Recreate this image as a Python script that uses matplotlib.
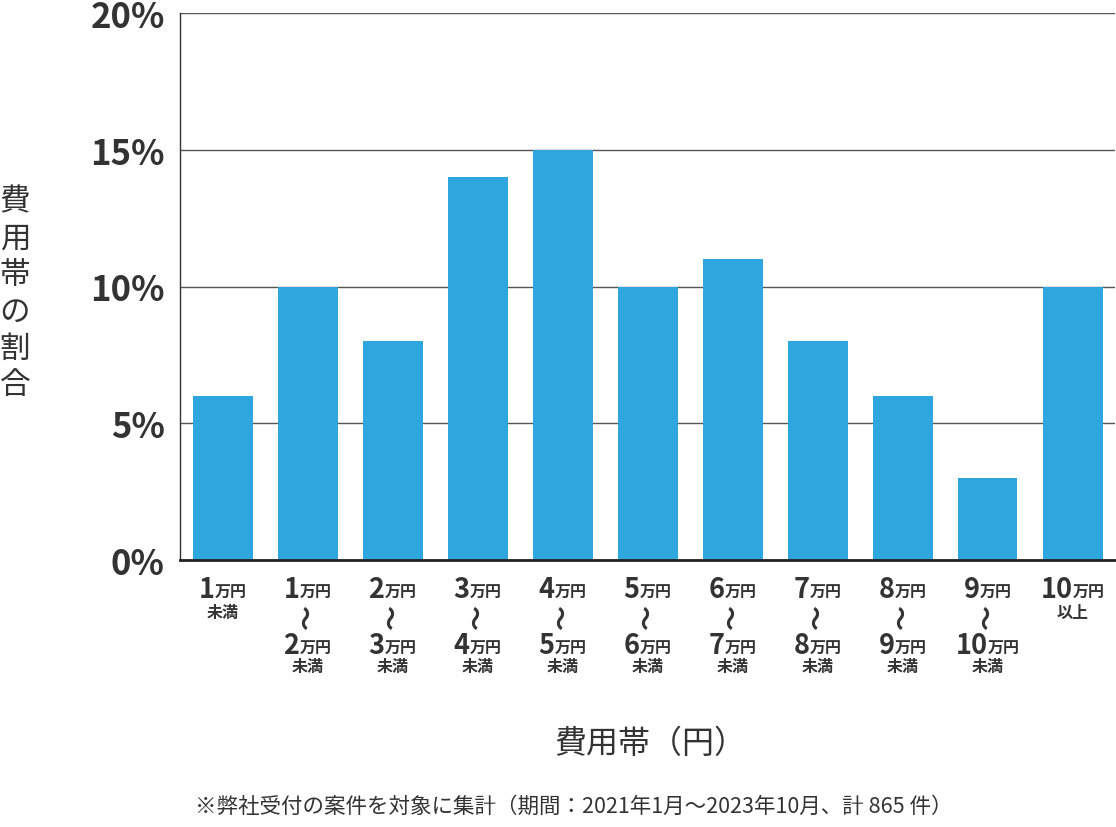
import matplotlib
matplotlib.use("Agg")
import matplotlib.pyplot as plt

plt.rcParams['font.family'] = ['Noto Sans CJK JP', 'DejaVu Sans']

# ---- data ----
low_nums = ["1", "1", "2", "3", "4", "5", "6", "7", "8", "9", "10"]
high_nums = [None, "2", "3", "4", "5", "6", "7", "8", "9", "10", None]
suffixes = ["未満", "未満", "未満", "未満", "未満", "未満", "未満", "未満", "未満", "未満", "以上"]
values = [6, 10, 8, 14, 15, 10, 11, 8, 6, 3, 10]
yticks = [0, 5, 10, 15, 20]
ytick_labels = ["0%", "5%", "10%", "15%", "20%"]
ylabel = "費用帯の割合"
xlabel = "費用帯（円）"
footnote = "※弊社受付の案件を対象に集計（期間：2021年1月～2023年10月、計 865 件）"

W, H = 1116, 828
TXT = "#333333"
BAR = "#2ea6de"

fig = plt.figure(figsize=(W / 100, H / 100), dpi=100)
ax = fig.add_axes([180 / W, (H - 561) / H, 935 / W, 547 / H])

x = list(range(len(values)))
ax.bar(x, values, width=60 / 85, color=BAR, zorder=2)
ax.set_xlim(-0.5, len(values) - 0.5)
ax.set_ylim(0, 20)
ax.set_yticks(yticks)
ax.set_yticklabels(ytick_labels, fontsize=25, fontweight='bold', color=TXT)
ax.tick_params(axis='y', length=0, pad=11)
ax.set_xticks([])
ax.yaxis.grid(True, color="#555555", linewidth=1)
ax.set_axisbelow(True)
for s in ['top', 'right']:
    ax.spines[s].set_visible(False)
ax.spines['left'].set_color("#333333")
ax.spines['left'].set_linewidth(1)
ax.spines['bottom'].set_color("#222222")
ax.spines['bottom'].set_linewidth(2)
ax.spines['bottom'].set_zorder(3)


def fx(px):
    return px / W


def fy(py):
    return 1 - py / H


# y label stacked vertically
fig.text(fx(15), fy(294), "\n".join(ylabel), ha='center', va='center',
         fontsize=22, color=TXT, linespacing=1.24)
fig.text(fx(650), fy(744), xlabel, ha='center', va='center', fontsize=23, color=TXT)
fig.text(fx(574), fy(807), footnote, ha='center', va='center', fontsize=15.5, color=TXT)

NUM_SIZE = 19.5
SMALL_SIZE = 11.5

groups = []  # (centre_px, [text objs])


def make_group(cx, base, parts):
    objs = []
    for t, size in parts:
        o = fig.text(0, fy(base), t, ha='left', va='baseline', fontsize=size,
                     fontweight='bold', color=TXT)
        objs.append(o)
    groups.append((cx, objs))


for i in x:
    cx = ax.transData.transform((i, 0))[0]
    make_group(cx, 598, [(low_nums[i], NUM_SIZE), ("万円", SMALL_SIZE)])
    if high_nums[i] is None:
        make_group(cx, 618, [(suffixes[i], SMALL_SIZE)])
    else:
        fig.text(fx(cx), fy(618), "〜", ha='center', va='center', rotation=90,
                 fontsize=18, fontweight='bold', color=TXT)
        make_group(cx, 654, [(high_nums[i], NUM_SIZE), ("万円", SMALL_SIZE)])
        make_group(cx, 672, [(suffixes[i], SMALL_SIZE)])

fig.canvas.draw()
r = fig.canvas.get_renderer()
for cx, objs in groups:
    widths = [o.get_window_extent(r).width for o in objs]
    total = sum(widths)
    cur = cx - total / 2
    for o, w in zip(objs, widths):
        o.set_x(fx(cur))
        cur += w

fig.savefig("out.png", dpi=100, facecolor='white')
